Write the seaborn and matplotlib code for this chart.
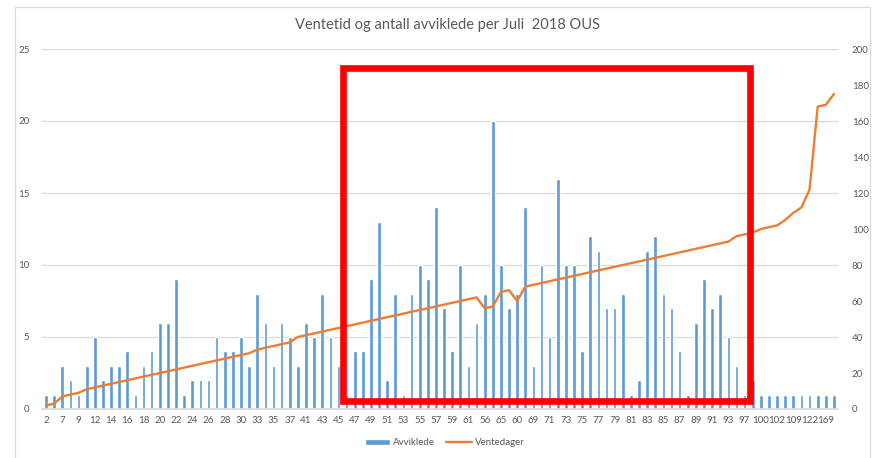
"""Ventetid og antall avviklede per juli 2018 OUS: bars + waiting-days line on twin axis."""

import matplotlib.pyplot as plt
from matplotlib.patches import Rectangle
import numpy as np
import seaborn as sns

# ── Data ──────────────────────────────────────────────────────────────────
# waiting days per category (also the x-axis category values)
ventedager = [
    2, 3, 7, 8, 9, 11, 12, 13, 14, 15, 16, 17, 18, 19, 20, 21, 22, 23, 24, 25,
    26, 27, 28, 29, 30, 31, 33, 34, 35, 36, 37, 40, 41, 42, 43, 44, 45, 46, 47, 48,
    49, 50, 51, 52, 53, 54, 55, 56, 57, 58, 59, 60, 61, 62, 56, 57, 65, 66, 60, 68,
    69, 70, 71, 72, 73, 74, 75, 76, 77, 78, 79, 80, 81, 82, 83, 84, 85, 86, 87, 88,
    89, 90, 91, 92, 93, 96, 97, 98, 100, 101, 102, 105, 109, 112, 122, 168, 169, 175,
]
avviklede = [
    1, 1, 3, 2, 1, 3, 5, 2, 3, 3, 4, 1, 3, 4, 6, 6, 9, 1, 2, 2, 2, 5, 4, 4, 5, 3,
    8, 6, 3, 6, 5, 3, 6, 5, 8, 5, 3, 1, 4, 4, 9, 13, 2, 8, 1, 8, 10, 9, 14, 7, 4,
    10, 3, 6, 8, 20, 10, 7, 8, 14, 3, 10, 5, 16, 10, 10, 4, 12, 11, 7, 7, 8, 1, 2,
    11, 12, 8, 7, 4, 1, 6, 9, 7, 8, 5, 3, 1, 2, 1, 1, 1, 1, 1, 1, 1, 1, 1, 1,
]
title = 'Ventetid og antall avviklede per Juli  2018 OUS'

BLUE   = '#5B9BD5'
ORANGE = '#ED7D31'
GREY   = '#595959'
GRID   = '#D9D9D9'


def plot_chart(path='out.png'):
    sns.set_theme(style='white')
    plt.rcParams['font.family'] = ['Lato', 'DejaVu Sans']

    n   = len(avviklede)
    pos = np.arange(n)

    fig = plt.figure(figsize=(8.75, 4.58), dpi=100)
    ax  = fig.add_axes([42 / 875, 1 - 409 / 458, 796 / 875, 360 / 458])
    ax2 = ax.twinx()

    sns.barplot(x=pos, y=avviklede, color=BLUE, width=0.45, saturation=1,
                ax=ax, label='Avviklede', zorder=2)
    sns.lineplot(x=pos, y=ventedager, color=ORANGE, linewidth=1.7,
                 ax=ax2, label='Ventedager')

    ax.set_xlim(-0.5, n - 0.5)
    ax.set_ylim(0, 25)
    ax2.set_ylim(0, 200)
    ax.set_yticks(range(0, 26, 5))
    ax2.set_yticks(range(0, 201, 20))

    ax.set_xticks(pos[::2])
    ax.set_xticklabels([str(v) for v in ventedager[::2]])

    ax.grid(axis='y', color=GRID, linewidth=0.9, zorder=0)
    ax.set_axisbelow(True)
    ax2.grid(False)
    for a in (ax, ax2):
        for s in a.spines.values():
            s.set_visible(False)
        a.set_xlabel('')
        a.set_ylabel('')
    ax.spines['bottom'].set_visible(True)
    ax.spines['bottom'].set_color(GRID)

    ax.tick_params(axis='x', length=0, pad=5, labelsize=7, labelcolor=GREY)
    ax.tick_params(axis='y', length=0, pad=9, labelsize=7, labelcolor=GREY)
    ax2.tick_params(axis='y', length=0, pad=10, labelsize=7, labelcolor=GREY)

    # legend at the bottom
    h1, l1 = ax.get_legend_handles_labels()
    h2, l2 = ax2.get_legend_handles_labels()
    for a in (ax, ax2):
        if a.get_legend():
            a.get_legend().remove()
    fig.legend(h1 + h2, l1 + l2, loc='center', bbox_to_anchor=(0.508, 0.033),
               ncol=2, frameon=False, fontsize=7, labelcolor=GREY,
               handlelength=2.6, handleheight=0.5, columnspacing=1.2,
               handletextpad=0.3)

    fig.text(0.511, 1 - 25 / 458, title, ha='center', va='center',
             fontsize=10.5, color=GREY)

    # chart area border
    fig.add_artist(Rectangle((15 / 875, -0.02), 855 / 875, 1 - 7 / 458 + 0.02,
                             transform=fig.transFigure, fill=False,
                             edgecolor=GRID, linewidth=0.9))
    # red highlight box
    fig.add_artist(Rectangle((343 / 875, 1 - 401 / 458), 407 / 875, 333 / 458,
                             transform=fig.transFigure, fill=False,
                             edgecolor='#FF0000', linewidth=4.8, zorder=10))

    fig.savefig(path, dpi=100)
    plt.close(fig)


if __name__ == '__main__':
    plot_chart()
